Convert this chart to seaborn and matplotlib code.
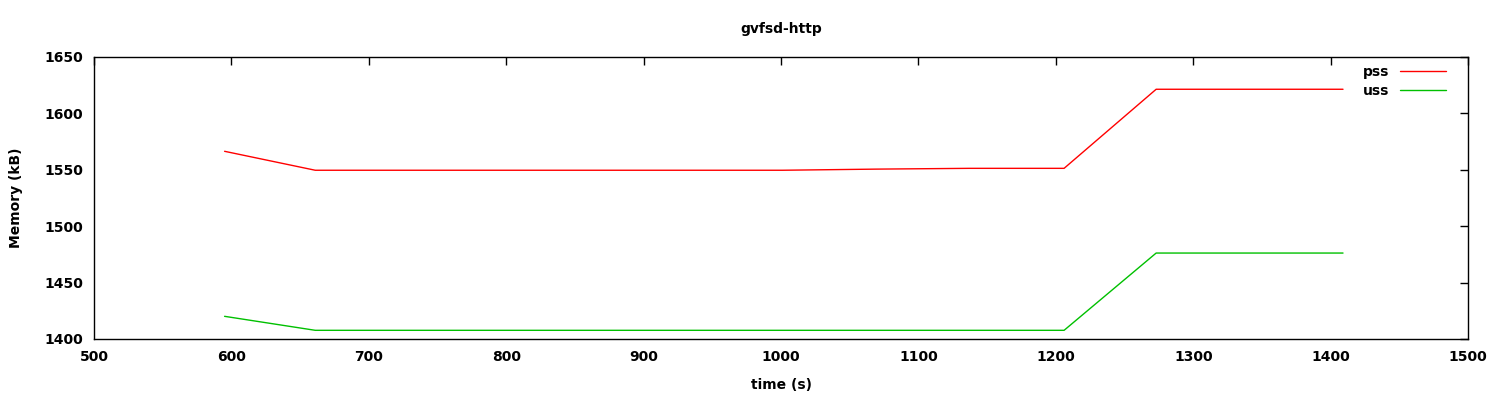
import numpy as np
import pandas as pd
import matplotlib
matplotlib.use("Agg")
import matplotlib.pyplot as plt
import seaborn as sns

times = [595, 661, 729, 797, 865, 933, 1001, 1069, 1137, 1206, 1273, 1341, 1409]
pss = [1566.4, 1549.6, 1549.6, 1549.6, 1549.6, 1549.6, 1549.6, 1550.6, 1551.3, 1551.3, 1621.4, 1621.4, 1621.4]
uss = [1420.1, 1407.7, 1407.7, 1407.7, 1407.7, 1407.7, 1407.7, 1407.7, 1407.7, 1407.7, 1476.2, 1476.2, 1476.2]
series_names = ["pss", "uss"]
colors = ["#ff0000", "#00c000"]

df = pd.DataFrame({"time": times * 2,
                   "mem": pss + uss,
                   "series": ["pss"] * len(times) + ["uss"] * len(times)})

sns.set_style("white")
plt.rcParams['font.family'] = ['DejaVu Sans']
plt.rcParams['font.size'] = 10
plt.rcParams['font.weight'] = 'bold'
plt.rcParams['text.color'] = 'black'
plt.rcParams['axes.labelcolor'] = 'black'
plt.rcParams['xtick.color'] = 'black'
plt.rcParams['ytick.color'] = 'black'

fig = plt.figure(figsize=(15, 4), dpi=100)
ax = fig.add_axes([0.0627, 0.1525, 0.9787 - 0.0627, 0.8575 - 0.1525])

sns.lineplot(data=df, x="time", y="mem", hue="series", hue_order=series_names,
             palette=colors, linewidth=1.0, ax=ax, estimator=None, sort=False)

ax.set_xlim(500, 1500)
ax.set_ylim(1400, 1650)
ax.set_xticks(np.arange(500, 1501, 100))
ax.set_yticks(np.arange(1400, 1651, 50))
ax.tick_params(direction="in", top=True, right=True, length=6, width=1,
               labelsize=10, pad=8, color="black", labelcolor="black")
for lab in ax.get_xticklabels() + ax.get_yticklabels():
    lab.set_fontweight("bold")
for s in ax.spines.values():
    s.set_color("black")
    s.set_linewidth(1)
ax.set_xlabel("time (s)", fontsize=10, labelpad=10, fontweight="bold")
ax.set_ylabel("Memory (kB)", fontsize=10, labelpad=15, fontweight="bold")
ax.set_title("gvfsd-http", fontsize=10, pad=17, fontweight="bold")

leg = ax.legend(loc="upper right", frameon=False, markerfirst=False,
                handlelength=3.3, fontsize=10, borderaxespad=0.2,
                labelspacing=0.35, bbox_to_anchor=(0.99, 1.0),
                prop={"weight": "bold", "size": 10})

fig.savefig("out.png", dpi=100)
